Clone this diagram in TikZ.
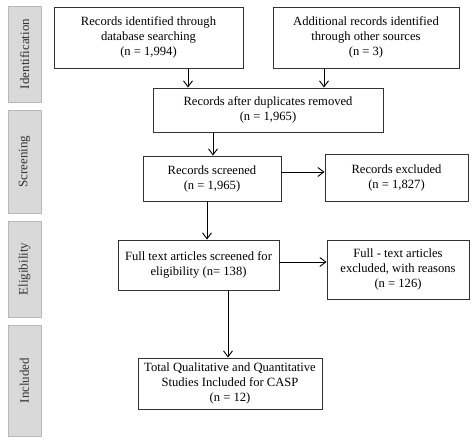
\documentclass[tikz,border=0pt]{standalone}
\usepackage{fontspec}
\setmainfont{Liberation Serif}
\usetikzlibrary{arrows.meta}
\definecolor{sidefill}{HTML}{D9D9D9}
\definecolor{sidedraw}{HTML}{B8B8B8}
\definecolor{linec}{HTML}{333333}
\begin{document}
\begin{tikzpicture}[x=1pt,y=1pt,
  box/.style={draw=linec, line width=0.9pt, inner sep=0pt, align=center,
    font=\fontsize{12.6}{15}\selectfont, text=black},
  side/.style={draw=sidedraw, fill=sidefill, line width=0.8pt, inner sep=0pt,
    minimum width=33pt, rotate=90, font=\fontsize{13}{15}\selectfont, text=linec},
  arr/.style={draw=black, line width=0.9pt, -{Straight Barb[length=6pt,width=9pt,line width=0.9pt]}}]
\useasboundingbox (0,0) rectangle (474,-441);
% side labels
\node[side, minimum height=33pt, minimum width=96pt] (sid) at (24.5,-54) {Identification};
\node[side, minimum height=33pt, minimum width=103pt] (ssc) at (24.5,-161.5) {Screening};
\node[side, minimum height=33pt, minimum width=96pt] (sel) at (24.5,-269) {Eligibility};
\node[side, minimum height=33pt, minimum width=111pt] (sin) at (24.5,-380.5) {Included};
% boxes
\node[box, minimum width=189pt, minimum height=61pt] (b1) at (148.5,-37.5)
  {Records identified through\\database searching\\(n = 1,994)};
\node[box, minimum width=186pt, minimum height=61pt] (b2) at (366,-37.5)
  {Additional records identified\\through other sources\\(n = 3)};
\node[box, minimum width=230pt, minimum height=44pt] (b3) at (268,-110)
  {Records after duplicates removed\\(n = 1,965)};
\node[box, minimum width=138pt, minimum height=45pt] (b4) at (212,-178.5)
  {Records screened\\(n = 1,965)};
\node[box, minimum width=143pt, minimum height=47pt] (b5) at (396.5,-177.5)
  {Records excluded\\(n = 1,827)};
\node[box, minimum width=161pt, minimum height=50pt] (b6) at (198.5,-265)
  {Full text articles screened for\\eligibility (n= 138)};
\node[box, minimum width=142pt, minimum height=59pt] (b7) at (398,-269.5)
  {Full - text articles\\excluded, with reasons\\(n = 126)};
\node[box, minimum width=184pt, minimum height=51pt] (b8) at (230,-383.5)
  {Total Qualitative and Quantitative\\Studies Included for CASP\\(n = 12)};
% connector guide coordinates
\coordinate (x1) at (188,0);
\coordinate (x2) at (324,0);
\coordinate (x3) at (213,0);
\coordinate (x4) at (207,0);
\coordinate (x5) at (228,0);
\coordinate (y1) at (0,-172);
\coordinate (y2) at (0,-262);
% connectors
\draw[arr] (b1.south -| x1) -- (b3.north -| x1);
\draw[arr] (b2.south -| x2) -- (b3.north -| x2);
\draw[arr] (b3.south -| x3) -- (b4.north -| x3);
\draw[arr] (b4.south -| x4) -- (b6.north -| x4);
\draw[arr] (b6.south -| x5) -- (b8.north -| x5);
\draw[arr] (b4.east |- y1) -- (b5.west |- y1);
\draw[arr] (b6.east |- y2) -- (b7.west |- y2);
\end{tikzpicture}
\end{document}
